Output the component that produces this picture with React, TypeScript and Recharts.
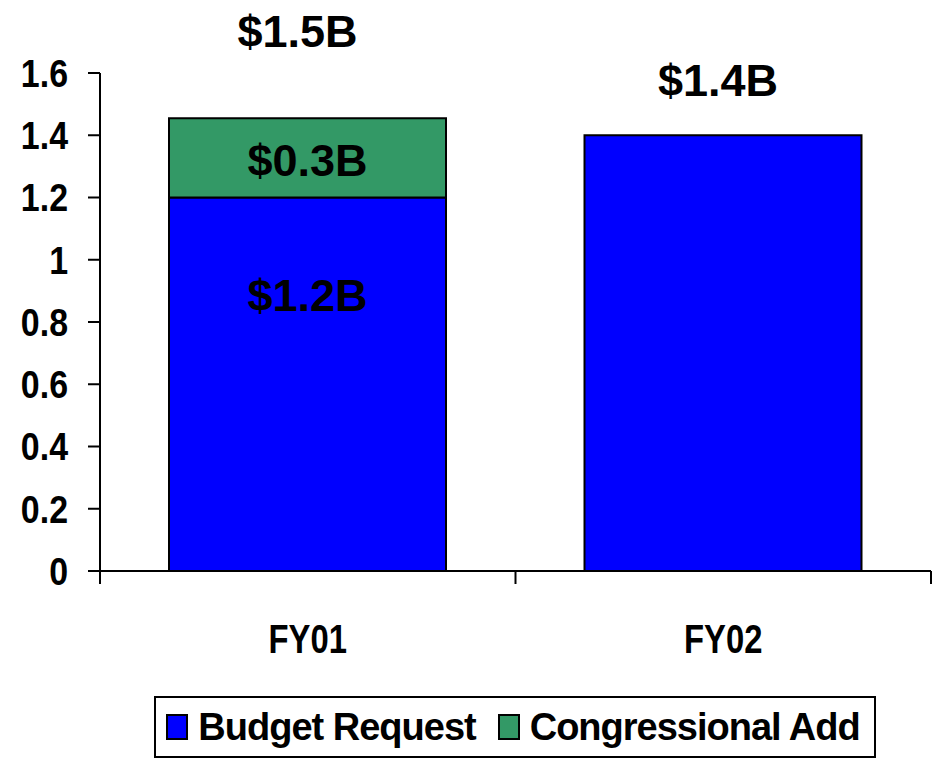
import { BarChart, Bar, XAxis, YAxis, Legend, LabelList } from 'recharts';

const categories = ['FY01', 'FY02'];
const budgetRequest = [1.2, 1.4];
const congressionalAdd = [0.255, 0];
const budgetLabels = ['$1.2B', ''];
const addLabels = ['$0.3B', ''];
const totalLabels = ['$1.5B', '$1.4B'];
const yTicks = [0, 0.2, 0.4, 0.6, 0.8, 1, 1.2, 1.4, 1.6];

const data = categories.map((name, i) => ({
  name,
  budget: budgetRequest[i],
  add: congressionalAdd[i],
  budgetLabel: budgetLabels[i],
  addLabel: addLabels[i],
  totalLabel: totalLabels[i],
}));

const BLUE = '#0000FF';
const GREEN = '#339966';
const sans = "'Liberation Sans', Arial, sans-serif";

// totals sit at different heights above each stack in the original
const totalLift = [87, 55];
const totalShift = [-10, -5];

// axis text in the original is a condensed bold face; squeeze it horizontally
function YTick({ x, y, payload }: any) {
  return (
    <text
      transform={`translate(${x},${y}) scale(0.87,1)`}
      textAnchor="end"
      dy="0.355em"
      fontFamily={sans}
      fontWeight={700}
      fontSize={39}
      fill="#000"
    >
      {payload.value}
    </text>
  );
}

function CategoryTick(props: any) {
  const { x, y, payload, index, visibleTicksCount, width } = props;
  const half = payload?.offset ?? width / visibleTicksCount / 2;
  const last = index === visibleTicksCount - 1;
  return (
    <g>
      <line x1={x - half} x2={x - half} y1={y} y2={y + 13} stroke="#000" strokeWidth={2} />
      {last && <line x1={x + half} x2={x + half} y1={y} y2={y + 13} stroke="#000" strokeWidth={2} />}
      <text
        transform={`translate(${x},${y + 82}) scale(0.8,1)`}
        textAnchor="middle"
        fontFamily={sans}
        fontWeight={700}
        fontSize={41}
        fill="#000"
      >
        {payload.value}
      </text>
    </g>
  );
}

const barText = (x: number, y: number, value: any) =>
  value ? (
    <text x={x} y={y} dy="0.35em" textAnchor="middle" fontFamily={sans} fontWeight={700} fontSize={45} fill="#000">
      {value}
    </text>
  ) : null;

const totalText = (p: any, show: boolean) =>
  show ? barText(p.x + p.width / 2 + totalShift[p.index], p.y - totalLift[p.index], p.value) : null;

function LegendBox({ payload }: any) {
  return (
    <div style={{ textAlign: 'center' }}>
      <div
        style={{
          display: 'inline-flex',
          alignItems: 'center',
          height: 62,
          boxSizing: 'border-box',
          border: '2px solid #000',
          padding: '0 14px 0 10px',
          background: '#fff',
          fontFamily: sans,
          fontWeight: 700,
          fontSize: 38,
          letterSpacing: -1,
          color: '#000',
        }}
      >
        {(payload || []).map((p: any, i: number) => (
          <div key={p.value} style={{ display: 'flex', alignItems: 'center', marginLeft: i ? 22 : 0 }}>
            <span
              style={{
                width: 22,
                height: 26,
                boxSizing: 'border-box',
                background: p.color,
                border: '2px solid #000',
                marginRight: 10,
                display: 'inline-block',
              }}
            />
            <span>{p.value}</span>
          </div>
        ))}
      </div>
    </div>
  );
}

export default function App() {
  return (
    <div style={{ position: 'absolute', left: 0, top: 0, width: 934, height: 758, overflow: 'hidden', background: '#fff' }}>
      <BarChart width={934} height={758} data={data} margin={{ top: 73, right: 3, bottom: 0, left: 0 }} barSize={277}>
        <XAxis
          dataKey="name"
          height={125}
          interval={0}
          axisLine={{ stroke: '#000', strokeWidth: 2 }}
          tickLine={false}
          tickSize={0}
          tickMargin={0}
          tick={<CategoryTick />}
        />
        <YAxis
          width={100}
          domain={[0, 1.6]}
          ticks={yTicks}
          interval={0}
          tickSize={12}
          tickMargin={20}
          axisLine={{ stroke: '#000', strokeWidth: 2 }}
          tickLine={{ stroke: '#000', strokeWidth: 2 }}
          tick={<YTick />}
        />
        <Legend verticalAlign="bottom" content={<LegendBox />} wrapperStyle={{ left: 100, width: 830 }} />
        <Bar dataKey="budget" name="Budget Request" stackId="a" fill={BLUE} stroke="#000" strokeWidth={2} isAnimationActive={false}>
          <LabelList dataKey="budgetLabel" content={(p: any) => barText(p.x + p.width / 2, p.y + 98, p.value)} />
          <LabelList dataKey="totalLabel" content={(p: any) => totalText(p, !data[p.index].add)} />
        </Bar>
        <Bar dataKey="add" name="Congressional Add" stackId="a" fill={GREEN} stroke="#000" strokeWidth={2} isAnimationActive={false}>
          <LabelList dataKey="addLabel" content={(p: any) => barText(p.x + p.width / 2, p.y + p.height / 2 + 2, p.value)} />
          <LabelList dataKey="totalLabel" content={(p: any) => totalText(p, !!data[p.index].add)} />
        </Bar>
      </BarChart>
    </div>
  );
}
